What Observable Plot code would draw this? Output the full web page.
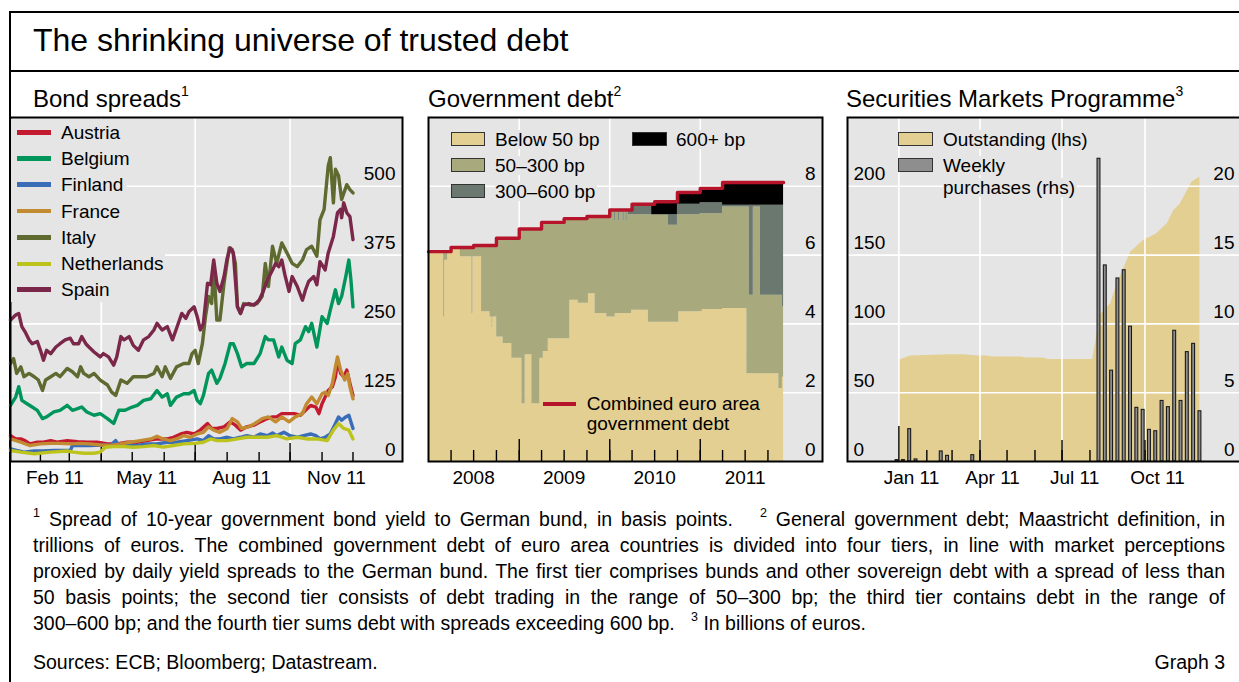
<!DOCTYPE html>
<html>
<head>
<meta charset="utf-8">
<script src="https://cdn.jsdelivr.net/npm/d3@7"></script>
<script src="https://cdn.jsdelivr.net/npm/@observablehq/plot@0.6"></script>
<style>
html,body{margin:0;padding:0;background:#fff}
body{width:1239px;height:682px;overflow:hidden;position:relative;font-family:"Liberation Sans",Arial,Helvetica,sans-serif;color:#000}
.a{position:absolute;white-space:nowrap;line-height:1}
.sup{position:relative}
.fl{position:absolute;left:33px;width:1192px;white-space:nowrap;line-height:26px;font-size:19.5px}
.pw{position:absolute}
.pw svg{max-width:none;background:transparent}
</style>
</head>
<body>
<div class="a" style="left:9px;top:11px;width:1240px;height:680px;border-left:2px solid #000;border-top:2px solid #000;box-sizing:border-box"></div>
<div class="a" style="left:9px;top:70px;width:1240px;height:2px;background:#000"></div>
<script>
// ---------------- DATA ----------------
// Panel 1: bond spreads (basis points), [day of 2011 (0 = 1 Jan), spread]
const countries = ["Austria","Belgium","Finland","France","Italy","Netherlands","Spain"];
const countryColors = ["#c41a30","#00955a","#3a6db8","#c28b31","#5e6a2f","#bcc31d","#7a2749"];
const spreadAustria = [[2,47],[7,41],[12,41],[16,38],[21,32],[28,35],[34,35],[41,38],[47,35],[57,38],[67,36],[76,35],[86,35],[96,32],[105,32],[115,35],[125,35],[134,38],[144,41],[154,41],[160,44],[167,50],[173,53],[180,50],[186,57],[193,69],[197,60],[202,60],[209,63],[215,72],[220,66],[225,57],[231,63],[238,66],[244,72],[251,78],[256,81],[260,81],[265,87],[270,87],[277,87],[283,84],[288,93],[293,102],[298,99],[301,87],[304,105],[307,117],[310,129],[314,136],[317,154],[319,185],[322,160],[325,154],[328,166],[331,142],[334,120]];
const spreadBelgium = [[2,102],[7,117],[10,136],[13,111],[18,105],[23,99],[28,93],[33,78],[37,81],[44,90],[50,93],[57,102],[62,93],[67,96],[71,99],[76,90],[83,84],[89,87],[96,78],[102,69],[107,93],[113,93],[120,99],[125,102],[131,111],[138,114],[144,129],[149,117],[154,123],[157,102],[163,117],[170,123],[175,123],[180,129],[183,111],[186,105],[189,120],[194,160],[197,166],[202,142],[205,151],[210,178],[215,214],[218,214],[222,196],[226,172],[231,178],[238,178],[244,196],[249,227],[252,221],[257,221],[262,190],[265,208],[270,184],[275,178],[278,214],[283,221],[288,245],[291,236],[294,251],[299,208],[304,263],[309,251],[312,275],[317,312],[320,287],[323,300],[327,336],[330,366],[332,330],[334,281]];
const spreadFinland = [[2,23],[8,20],[15,17],[25,19],[34,19],[44,20],[54,20],[60,20],[62,29],[70,29],[79,29],[89,30],[99,29],[104,38],[107,29],[115,29],[125,29],[134,32],[144,32],[154,35],[163,35],[173,38],[183,41],[189,38],[194,47],[199,41],[205,41],[212,44],[218,41],[225,44],[231,47],[238,44],[244,50],[251,47],[256,52],[260,47],[267,53],[273,47],[280,44],[286,47],[293,50],[298,47],[302,41],[307,44],[312,50],[317,69],[320,81],[323,75],[327,81],[330,84],[334,60]];
const spreadFrance = [[2,41],[12,35],[21,29],[31,32],[41,33],[50,33],[60,32],[70,33],[79,32],[89,30],[99,29],[109,32],[118,35],[128,38],[138,41],[144,46],[150,41],[157,38],[163,41],[170,47],[176,44],[183,50],[189,53],[194,63],[199,57],[205,53],[212,60],[217,78],[222,72],[226,60],[233,63],[239,69],[246,78],[252,81],[259,72],[265,81],[272,72],[278,81],[285,87],[289,105],[294,117],[299,105],[304,123],[307,126],[310,120],[314,142],[317,172],[319,190],[322,166],[326,148],[329,160],[331,136],[334,114]];
const spreadItaly = [[2,178],[5,187],[8,160],[12,172],[15,154],[20,160],[25,154],[29,148],[33,129],[36,148],[41,154],[46,160],[50,154],[57,169],[62,163],[67,154],[70,172],[73,160],[78,154],[83,160],[89,148],[96,139],[100,126],[104,120],[109,148],[115,142],[121,154],[128,154],[134,154],[141,160],[144,172],[149,154],[152,172],[157,151],[163,172],[170,178],[175,178],[178,196],[181,202],[184,178],[188,214],[191,263],[194,300],[197,287],[199,360],[202,257],[205,257],[209,324],[214,388],[217,385],[220,360],[222,281],[225,269],[228,287],[235,284],[241,287],[246,300],[249,360],[252,318],[256,391],[260,360],[265,397],[270,379],[275,360],[280,354],[285,366],[289,385],[294,391],[299,373],[302,439],[306,458],[310,537],[312,552],[315,470],[317,531],[320,519],[323,476],[328,503],[331,494],[334,488]];
const spreadNetherlands = [[2,20],[12,17],[25,14],[41,17],[57,19],[63,17],[73,15],[83,15],[89,17],[94,26],[102,27],[112,27],[121,26],[131,27],[141,29],[150,26],[160,29],[170,32],[180,33],[189,35],[196,41],[202,38],[212,38],[222,41],[231,44],[241,44],[251,44],[260,47],[270,41],[280,44],[289,41],[299,41],[309,38],[315,57],[320,69],[325,60],[330,57],[334,41]];
const spreadSpain = [[2,257],[7,266],[10,269],[13,245],[16,236],[20,221],[23,214],[28,218],[31,202],[34,184],[37,202],[41,196],[46,208],[50,214],[55,221],[60,224],[63,214],[68,214],[71,227],[75,214],[78,208],[83,199],[89,190],[92,196],[97,190],[102,175],[105,190],[109,227],[112,221],[117,227],[121,211],[126,202],[131,221],[136,227],[141,239],[144,251],[149,239],[154,245],[159,221],[163,242],[168,269],[172,260],[175,272],[180,281],[183,263],[186,239],[189,251],[193,324],[196,321],[199,366],[202,324],[205,309],[209,336],[212,369],[215,388],[218,379],[222,281],[225,269],[228,284],[233,287],[238,284],[243,293],[247,309],[251,330],[256,348],[259,360],[262,354],[265,366],[268,339],[272,309],[275,336],[280,318],[285,293],[288,312],[291,327],[296,336],[299,321],[302,363],[307,348],[310,379],[315,409],[319,452],[322,458],[323,443],[325,470],[328,452],[331,445],[334,403]];
const spreadYTicks = [0,125,250,375,500];
const spreadXLabels = ["Feb 11","May 11","Aug 11","Nov 11"];
const spreadXLabelDates = ["2011-02-15","2011-05-15","2011-08-15","2011-11-15"];

// Panel 2: government debt (trillions of euros); tier upper boundaries
// null = boundary coincides with the one above
const debtTotal = [["2008-01-01",6.10],["2008-04-01",6.22],["2008-07-01",6.28],["2008-10-01",6.49],["2009-01-01",6.76],["2009-04-01",6.95],["2009-07-01",7.06],["2009-10-01",7.12],["2010-01-01",7.31],["2010-04-01",7.48],["2010-07-01",7.55],["2010-10-01",7.82],["2011-01-01",7.94],["2011-04-01",8.11],["2011-12-03",8.11]];
const topBelow50 = [["2008-01-01",null],["2008-03-02",4.2],["2008-03-06",5.85],["2008-03-18",null],["2008-05-08",5.95],["2008-06-24",4.3],["2008-06-28",5.95],["2008-08-02",4.35],["2008-09-05",4.2],["2008-09-13",3.9],["2008-09-16",4.2],["2008-10-02",3.62],["2008-10-28",3.43],["2008-12-02",3.0],["2009-01-12",1.68],["2009-01-25",3.1],["2009-02-21",1.68],["2009-03-25",3.0],["2009-04-08",3.2],["2009-04-28",3.57],["2009-07-24",4.69],["2009-08-27",4.6],["2009-10-07",4.88],["2009-11-03",4.3],["2009-12-20",4.2],["2010-01-23",4.3],["2010-03-30",4.4],["2010-06-06",4.05],["2010-10-06",4.35],["2011-01-09",4.42],["2011-04-01",4.45],["2011-07-08",2.55],["2011-11-14",2.12],["2011-11-28",2.45]];
const top50to300 = [["2008-01-01",null],["2010-01-21",7.0],["2010-01-25",null],["2010-02-06",7.0],["2010-02-10",null],["2010-02-24",7.0],["2010-02-28",null],["2010-03-08",7.0],["2010-03-12",null],["2010-03-17",7.17],["2010-08-26",6.87],["2010-10-01",7.17],["2011-01-01",7.2],["2011-04-01",7.40],["2011-07-18",4.83],["2011-08-03",7.40],["2011-09-01",4.83],["2011-11-28",4.5]];
const top300to600 = [["2008-01-01",null],["2010-06-19",7.17],["2010-10-01",7.48],["2011-01-01",7.52],["2011-04-01",7.45]];
const debtTiers = ["Below 50 bp","50–300 bp","300–600 bp","600+ bp"];
const debtColors = ["#e3cf91","#a8aa7d","#6a7870","#000000"];
const debtYTicks = [0,2,4,6,8];
const debtXLabels = ["2008","2009","2010","2011"];

// Panel 3: Securities Markets Programme (billions of euros)
const smpOutstanding = [["2011-01-01",73.5],["2011-01-14",76.6],["2011-02-24",77.6],["2011-03-14",77.6],["2011-03-29",76.6],["2011-04-09",76.6],["2011-04-16",75.9],["2011-05-16",75.9],["2011-05-23",75.2],["2011-06-10",75.2],["2011-06-16",74.2],["2011-08-04",74.2],["2011-08-09",92.8],["2011-08-13",107],["2011-08-24",114.7],["2011-08-31",129],["2011-09-08",141],["2011-09-15",152],["2011-09-30",161],["2011-10-13",165],["2011-10-26",173],["2011-11-02",182.5],["2011-11-09",187],["2011-11-22",203],["2011-12-01",206.8]];
const smpWeekly = [["2010-12-30",0.1],["2011-01-06",0.1],["2011-01-13",2.35],["2011-01-20",0.15],["2011-02-17",0.73],["2011-02-24",0.41],["2011-03-24",0.46],["2011-08-11",22.0],["2011-08-18",14.25],["2011-08-25",6.6],["2011-09-01",13.3],["2011-09-08",13.9],["2011-09-15",9.8],["2011-09-22",3.9],["2011-09-29",3.75],["2011-10-06",2.3],["2011-10-13",2.2],["2011-10-20",4.4],["2011-10-27",3.95],["2011-11-03",9.5],["2011-11-10",4.4],["2011-11-17",7.95],["2011-11-24",8.55],["2011-12-01",3.65]];
const smpLeftTicks = [0,50,100,150,200];
const smpRightTicks = [0,5,10,15,20];
const smpXLabels = ["Jan 11","Apr 11","Jul 11","Oct 11"];
const smpXLabelDates = ["2011-01-15","2011-04-15","2011-07-15","2011-10-15"];

// ---------------- HELPERS ----------------
const GREY = "#e5e5e5";
const FONT = '"Liberation Sans", Arial, Helvetica, sans-serif';
const dd = s => new Date(s + "T00:00:00Z");
const dayDate = d => new Date(Date.UTC(2011, 0, 1 + d));
const PH = 344, MB = 30, XDY = 22;

function place(html, x, cy, size, extra = "") {
  const el = document.createElement("div");
  el.className = "a";
  el.style.left = x + "px";
  el.style.top = (cy - 0.4885 * size) + "px";
  el.style.fontSize = size + "px";
  if (extra) el.style.cssText += extra;
  el.innerHTML = html;
  document.body.appendChild(el);
  return el;
}
function box(x, y, w, h, css) {
  const el = document.createElement("div");
  el.className = "a";
  el.style.cssText += `left:${x}px;top:${y}px;width:${w}px;height:${h}px;` + css;
  document.body.appendChild(el);
  return el;
}
function mount(svg, x, y) {
  const w = document.createElement("div");
  w.className = "pw";
  w.style.left = x + "px";
  w.style.top = y + "px";
  w.appendChild(svg);
  document.body.appendChild(w);
}
const baseStyle = {overflow: "visible", fontFamily: FONT, fontSize: "19px", background: "transparent", maxWidth: "none"};

// ---------------- TITLES ----------------
place("The shrinking universe of trusted debt", 33, 40, 32);
place('Bond spreads<span class="sup" style="font-size:14px;top:-11px">1</span>', 33, 99, 24);
place('Government debt<span class="sup" style="font-size:14px;top:-11px">2</span>', 428, 99, 24);
place('Securities Markets Programme<span class="sup" style="font-size:14px;top:-11px">3</span>', 846, 99, 24);

// ---------------- PANEL 1 ----------------
const spreadSeries = [spreadAustria, spreadBelgium, spreadFinland, spreadFrance, spreadItaly, spreadNetherlands, spreadSpain];
const p1Months = d3.utcMonth.range(dd("2011-02-01"), dd("2011-12-02"));
const p1Quarters = [dd("2011-04-01"), dd("2011-07-01"), dd("2011-10-01")];
const p1 = Plot.plot({
  width: 392, height: PH + MB, marginTop: 0, marginRight: 0, marginBottom: MB, marginLeft: 0,
  x: {type: "utc", domain: [dd("2011-01-03"), dd("2012-01-18")], axis: null},
  y: {domain: [0, 625], axis: null},
  style: baseStyle,
  marks: [
    Plot.frame({fill: GREY, stroke: "none"}),
    Plot.ruleY(spreadYTicks.filter(v => v > 0), {y: d => d, stroke: "#fff", strokeWidth: 1.6}),
    Plot.ruleX(p1Quarters, {x: d => d, stroke: "#fff", strokeWidth: 1.6}),
    Plot.tickX(p1Months, {x: d => d, stroke: "#000", strokeWidth: 1.4, insetTop: PH - 9}),
    Plot.tickX(p1Quarters, {x: d => d, stroke: "#000", strokeWidth: 1.4, insetTop: PH - 18}),
    ...spreadSeries.map((s, i) => Plot.line(s.map(([d, v]) => ({date: dayDate(d), v})),
      {x: "date", y: "v", stroke: countryColors[i], strokeWidth: 3.4, strokeLinejoin: "round"})),
    Plot.text(spreadYTicks, {y: d => d, text: d => String(d), frameAnchor: "right", textAnchor: "end", dx: -7, dy: -12, fontSize: 19, fill: "#000"}),
    Plot.text(spreadXLabels.map((l, i) => ({date: dd(spreadXLabelDates[i]), l})), {x: "date", text: "l", frameAnchor: "bottom", dy: XDY, fontSize: 19, fill: "#000"}),
    Plot.frame({stroke: "#000", strokeWidth: 2})
  ]
});
mount(p1, 10, 117);
// legend panel 1
box(11, 119, 116, 183, `background:${GREY}`);
const p1Rows = [132.5, 158.5, 184.5, 211, 237.5, 263.7, 289.5];
countries.forEach((c, i) => {
  const cy = p1Rows[i];
  box(16.5, cy - 2.2, 34, 4.4, `background:${countryColors[i]}`);
  place(c, 61, cy, 19, `background:${GREY};padding-right:2px;line-height:19px`);
});

// ---------------- PANEL 2 ----------------
function stepLookup(arr, date) {
  let v;
  for (const [d, val] of arr) { if (dd(d) <= date) v = val; else break; }
  return v;
}
const p2DateSet = new Set([...debtTotal, ...topBelow50, ...top50to300, ...top300to600].map(r => r[0]));
const p2Dates = [...p2DateSet].sort().map(dd);
const debtRows = p2Dates.map(date => {
  const total = stepLookup(debtTotal, date);
  const g = stepLookup(top300to600, date); const grey = g == null ? total : g;
  const o = stepLookup(top50to300, date); const olive = o == null ? grey : o;
  const t = stepLookup(topBelow50, date); const tan = t == null ? olive : t;
  return {date, tan, olive, grey, total};
});
const p2Quarters = d3.utcMonth.every(3).range(dd("2008-04-01"), dd("2011-10-02"));
const p2Years = [dd("2009-01-01"), dd("2010-01-01"), dd("2011-01-01")];
const p2 = Plot.plot({
  width: 394, height: PH + MB, marginTop: 0, marginRight: 0, marginBottom: MB, marginLeft: 0,
  x: {type: "utc", domain: [dd("2008-01-01"), dd("2012-05-08")], axis: null},
  y: {domain: [0, 10], axis: null},
  style: baseStyle,
  marks: [
    Plot.frame({fill: GREY, stroke: "none"}),
    Plot.ruleY(debtYTicks.filter(v => v > 0), {y: d => d, stroke: "#fff", strokeWidth: 1.6}),
    Plot.ruleX(p2Years, {x: d => d, stroke: "#fff", strokeWidth: 1.6}),
    Plot.areaY(debtRows, {x: "date", y1: 0, y2: "tan", curve: "step-after", fill: debtColors[0]}),
    Plot.areaY(debtRows, {x: "date", y1: "tan", y2: "olive", curve: "step-after", fill: debtColors[1]}),
    Plot.areaY(debtRows, {x: "date", y1: "olive", y2: "grey", curve: "step-after", fill: debtColors[2]}),
    Plot.areaY(debtRows, {x: "date", y1: "grey", y2: "total", curve: "step-after", fill: debtColors[3]}),
    Plot.tickX(p2Quarters, {x: d => d, stroke: "#000", strokeWidth: 1.4, insetTop: PH - 11}),
    Plot.tickX(p2Years, {x: d => d, stroke: "#000", strokeWidth: 1.4, insetTop: PH - 22}),
    Plot.line(debtTotal.map(([d, v]) => ({date: dd(d), v})), {x: "date", y: "v", curve: "step-after", stroke: "#b5142b", strokeWidth: 3.4}),
    Plot.text(debtYTicks, {y: d => d, text: d => String(d), frameAnchor: "right", textAnchor: "end", dx: -7, dy: -12, fontSize: 19, fill: "#000"}),
    Plot.text(debtXLabels.map(l => ({date: dd(l + "-07-01"), l})), {x: "date", text: "l", frameAnchor: "bottom", dy: XDY, fontSize: 19, fill: "#000"}),
    Plot.frame({stroke: "#000", strokeWidth: 2})
  ]
});
mount(p2, 428, 117);
// legend panel 2
const p2Leg = [[450.7, 139.3, 0, 495], [450.7, 165, 1, 495], [450.7, 191, 2, 495], [632.3, 139.3, 3, 676]];
p2Leg.forEach(([x, cy, i, tx]) => {
  box(x, cy - 7, 34.5, 14, `background:${debtColors[i]};border:1.5px solid #333;box-sizing:border-box`);
  place(debtTiers[i], tx, cy, 19, `background:${GREY};padding-right:2px;line-height:19px`);
});
box(542.7, 402.3, 33.5, 3.4, "background:#b5142b");
place("Combined euro area", 586.7, 403.5, 19);
place("government debt", 586.7, 423.5, 19);

// ---------------- PANEL 3 ----------------
const p3Months = d3.utcMonth.range(dd("2011-02-01"), dd("2011-12-02"));
const p3Quarters = [dd("2011-04-01"), dd("2011-07-01"), dd("2011-10-01")];
const p3Year = [dd("2011-01-01")];
const p3Grid = [dd("2011-01-01"), ...p3Quarters];
const p3 = Plot.plot({
  width: 393, height: PH + MB, marginTop: 0, marginRight: 0, marginBottom: MB, marginLeft: 0,
  x: {type: "utc", domain: [dd("2010-11-05"), dd("2012-01-15")], axis: null},
  y: {domain: [0, 250], axis: null},
  style: baseStyle,
  marks: [
    Plot.frame({fill: GREY, stroke: "none"}),
    Plot.areaY(smpOutstanding.map(([d, v]) => ({date: dd(d), v})), {x: "date", y: "v", fill: "#e3cf91"}),
    Plot.ruleY(smpLeftTicks.filter(v => v > 0), {y: d => d, stroke: "#fff", strokeWidth: 1.6}),
    Plot.ruleX(p3Grid, {x: d => d, stroke: "#fff", strokeWidth: 1.6}),
    Plot.tickX(p3Months, {x: d => d, stroke: "#000", strokeWidth: 1.4, insetTop: PH - 11}),
    Plot.tickX(p3Quarters, {x: d => d, stroke: "#000", strokeWidth: 1.4, insetTop: PH - 21}),
    Plot.tickX(p3Year, {x: d => d, stroke: "#000", strokeWidth: 1.4, insetTop: PH - 35}),
    Plot.rectY(smpWeekly.map(([d, v]) => ({date: dd(d), v})), {
      x1: d => new Date(d.date.getTime() - 1.6 * 864e5), x2: d => new Date(d.date.getTime() + 1.6 * 864e5),
      y1: 0, y2: d => d.v * 10, fill: "#8e8e8e", stroke: "#1a1a1a", strokeWidth: 1.1
    }),
    Plot.text(smpLeftTicks, {y: d => d, text: d => String(d), frameAnchor: "left", textAnchor: "start", dx: 6, dy: -12, fontSize: 19, fill: "#000"}),
    Plot.text(smpRightTicks, {y: d => d * 10, text: d => String(d), frameAnchor: "right", textAnchor: "end", dx: -6, dy: -12, fontSize: 19, fill: "#000"}),
    Plot.text(smpXLabels.map((l, i) => ({date: dd(smpXLabelDates[i]), l})), {x: "date", text: "l", frameAnchor: "bottom", dy: XDY, fontSize: 19, fill: "#000"}),
    Plot.frame({stroke: "#000", strokeWidth: 2})
  ]
});
mount(p3, 847, 117);
// legend panel 3
box(898.3, 132.3, 34.5, 14, "background:#e3cf91;border:1.5px solid #333;box-sizing:border-box");
box(898.3, 158, 34.5, 14, "background:#8e8e8e;border:1.5px solid #333;box-sizing:border-box");
place("Outstanding (lhs)", 943, 139.3, 19, `background:${GREY};padding-right:2px;line-height:19px`);
place("Weekly", 943, 165, 19, `background:${GREY};padding-right:2px;line-height:19px`);
place("purchases (rhs)", 943, 187.7, 19, `background:${GREY};padding-right:2px;line-height:19px`);

// ---------------- FOOTNOTES ----------------
const S = n => `<span class="sup" style="font-size:12.5px;top:-9px">${n}</span>`;
const notes = [
  `${S(1)}&nbsp;Spread of 10-year government bond yield to German bund, in basis points. &nbsp;&nbsp;${S(2)}&nbsp;General government debt; Maastricht definition, in`,
  `trillions of euros. The combined government debt of euro area countries is divided into four tiers, in line with market perceptions`,
  `proxied by daily yield spreads to the German bund. The first tier comprises bunds and other sovereign debt with a spread of less than`,
  `50 basis points; the second tier consists of debt trading in the range of 50–300 bp; the third tier contains debt in the range of`,
  `300–600 bp; and the fourth tier sums debt with spreads exceeding 600 bp. &nbsp;&nbsp;${S(3)}&nbsp;In billions of euros.`
];
notes.forEach((html, i) => {
  const div = document.createElement("div");
  div.className = "fl";
  div.style.top = (506.2 + 26 * i) + "px";
  div.innerHTML = `<span class="in">${html}</span>`;
  document.body.appendChild(div);
  const w = div.querySelector(".in").getBoundingClientRect().width;
  let fs = 19.5;
  if (w > 1190) fs = Math.floor(19.5 * 1190 / w * 100) / 100;
  div.style.fontSize = fs + "px";
  if (i < notes.length - 1) {
    div.style.whiteSpace = "normal";
    div.style.textAlign = "justify";
    div.style.textAlignLast = "justify";
  }
});
place("Sources: ECB; Bloomberg; Datastream.", 33, 663, 19.5);
const g3 = place("Graph 3", 0, 663, 19.5);
g3.style.left = "auto"; g3.style.right = "14px";
</script>
</body>
</html>
